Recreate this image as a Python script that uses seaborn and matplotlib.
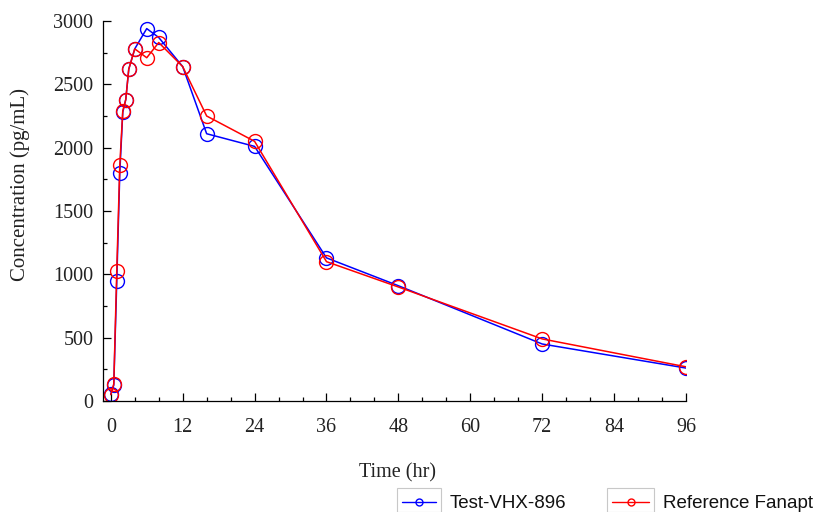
import matplotlib
matplotlib.use("Agg")
import matplotlib.pyplot as plt
from matplotlib.lines import Line2D
from matplotlib.patches import Rectangle
from matplotlib.ticker import MultipleLocator
import seaborn as sns
import pandas as pd

time_hr = [0, 0.5, 1, 1.5, 2, 2.5, 3, 4, 6, 8, 12, 16, 24, 36, 48, 72, 96]
test_vhx = [55, 125, 950, 1800, 2280, 2380, 2620, 2780, 2940, 2870, 2640, 2110, 2010, 1130, 910, 450, 260]
ref_fanapt = [50, 135, 1030, 1860, 2290, 2380, 2620, 2780, 2710, 2830, 2640, 2250, 2050, 1100, 900, 490, 270]
series_names = ["Test-VHX-896", "Reference Fanapt"]
x_ticks = [0, 12, 24, 36, 48, 60, 72, 84, 96]
y_ticks = [0, 500, 1000, 1500, 2000, 2500, 3000]

sns.set_style("white")
plt.rcParams["font.family"] = ["Liberation Serif", "DejaVu Serif"]

fig = plt.figure(figsize=(8.17, 5.12), dpi=100)
ax = fig.add_axes([103 / 817, 1 - 401 / 512, (686 - 103) / 817, (401 - 21) / 512])

colors = ["#0000ff", "#ff0000"]
for name, vals, c in zip(series_names, [test_vhx, ref_fanapt], colors):
    df = pd.DataFrame({"t": time_hr, "c": vals})
    sns.lineplot(data=df, x="t", y="c", ax=ax, color=c, marker="o", markersize=10,
                 markerfacecolor="none", markeredgecolor=c, markeredgewidth=1.0,
                 linewidth=1.1, legend=False)

ax.set_xlim(-1.3, 96)
ax.set_ylim(0, 3000)
ax.set_xticks(x_ticks)
ax.set_yticks(y_ticks)
ax.xaxis.set_minor_locator(MultipleLocator(4))
ax.yaxis.set_minor_locator(MultipleLocator(250))
ax.tick_params(axis="both", which="major", direction="in", length=6, width=0.9,
               colors="black", labelsize=14.5)
ax.tick_params(axis="x", which="major", pad=12)
ax.tick_params(axis="y", which="major", pad=7)
ax.tick_params(axis="both", which="minor", direction="in", length=3, width=0.9, colors="black")
ax.tick_params(axis="x", which="both", bottom=True)
ax.tick_params(axis="y", which="both", left=True)
for lab in ax.get_xticklabels() + ax.get_yticklabels():
    lab.set_color("#222222")
for s in ["top", "right"]:
    ax.spines[s].set_visible(False)
for s in ["left", "bottom"]:
    ax.spines[s].set_color("black")
    ax.spines[s].set_linewidth(0.9)

ax.set_xlabel("Time (hr)", fontsize=14.5, color="#222222")
ax.set_ylabel("Concentration (pg/mL)", fontsize=15, color="#222222")
ax.xaxis.set_label_coords(0.505, -0.163)
ax.yaxis.set_label_coords(-0.126, 0.57)

# legend below plot
entries = [(397, 441, 450), (607, 654, 663)]
for (x0, x1, tx), name, c in zip(entries, series_names, colors):
    fig.add_artist(Rectangle((x0 / 817, 0), (x1 - x0) / 817, (512 - 488) / 512,
                             transform=fig.transFigure, fill=False, edgecolor="#c8c8c8", linewidth=0.8))
    yl = 1 - 502 / 512
    fig.add_artist(Line2D([(x0 + 5) / 817, (x1 - 5) / 817], [yl, yl], transform=fig.transFigure,
                          color=c, linewidth=1.0, marker=None))
    fig.add_artist(Line2D([(x0 + x1) / 2 / 817], [yl], transform=fig.transFigure, color=c,
                          marker="o", markersize=5, markerfacecolor="none", markeredgecolor=c,
                          linestyle="none"))
    fig.text(tx / 817, yl - 0.003, name, fontsize=13.5, va="center", ha="left", color="#111111",
             family=["Liberation Sans", "DejaVu Sans"])

fig.savefig("out.png", dpi=100)
